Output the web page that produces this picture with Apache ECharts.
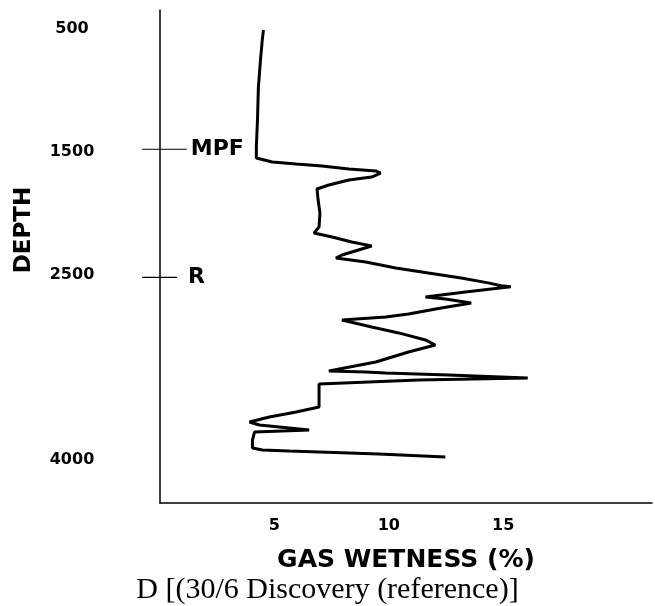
<!DOCTYPE html>
<html>
<head>
<meta charset="utf-8">
<script src="https://cdn.jsdelivr.net/npm/echarts@6/dist/echarts.min.js"></script>
<style>html,body{margin:0;padding:0;background:#fff;}#c{width:655px;height:606px;}</style>
</head>
<body>
<div id="c"></div>
<script>
// Gas wetness (%) read along the log, top to bottom
var wetness = [4.52,4.47,4.39,4.30,4.26,4.21,4.21,4.91,5.95,7.08,8.25,9.43,9.64,9.25,8.25,7.38,6.86,6.91,6.99,6.95,6.73,7.52,8.38,9.25,7.95,7.69,8.99,10.30,11.73,13.16,14.34,14.90,15.33,13.34,11.60,12.47,13.60,12.29,10.86,9.86,7.95,9.25,10.43,11.60,12.03,10.86,9.43,7.38,8.99,9.86,12.60,16.07,11.29,6.95,6.95,6.95,5.95,4.78,3.91,4.34,6.52,4.13,4.04,4.04,4.47,5.65,6.95,9.56,12.47];
// Depth for each reading
var depth = [512,593,756,975,1243,1462,1551,1583,1599,1616,1640,1656,1673,1705,1729,1770,1802,1892,1997,2111,2159,2192,2232,2265,2338,2362,2395,2443,2484,2524,2564,2588,2596,2638,2679,2695,2727,2768,2817,2841,2865,2922,2970,3027,3068,3125,3206,3279,3287,3295,3311,3336,3352,3384,3474,3571,3612,3652,3693,3717,3758,3774,3839,3904,3920,3928,3936,3952,3977];
// Formation tops
var formationNames = ['MPF', 'R'];
var formationDepths = [1480, 2520];
var formationTickFrom = [-0.78, -0.78];
var formationTickTo = [1.17, 0.74];
// Tick labels shown
var depthTickLabels = [500, 1500, 2500, 4000];
var wetnessTickLabels = [5, 10, 15];

var logData = wetness.map(function (w, i) { return [w, depth[i]]; });
var formationData = formationNames.map(function (n, i) {
  return [formationTickFrom[i], formationTickTo[i], formationDepths[i], i];
});

var boldFont = '"DejaVu Sans", sans-serif';

var chart = echarts.init(document.getElementById('c'), null, { renderer: 'canvas' });
chart.setOption({
  animation: false,
  backgroundColor: '#fff',
  title: {
    text: 'D [(30/6 Discovery (reference)]',
    left: 'center',
    top: 570,
    textStyle: { fontFamily: '"Liberation Serif", "Times New Roman", serif', fontWeight: 'normal', fontSize: 30, color: '#000' }
  },
  grid: { left: 160, right: 0, top: 10, height: 493 },
  xAxis: {
    type: 'value',
    min: 0, max: 21.5, interval: 5,
    name: 'GAS WETNESS (%)',
    nameLocation: 'middle',
    nameGap: 45,
    nameTextStyle: { fontFamily: boldFont, fontWeight: 'bold', fontSize: 25, color: '#000' },
    axisLine: { show: true, lineStyle: { color: '#000', width: 1.5 } },
    axisTick: { show: false },
    splitLine: { show: false },
    axisLabel: {
      margin: 15,
      fontFamily: boldFont, fontWeight: 'bold', fontSize: 16, color: '#000',
      formatter: function (v) { return wetnessTickLabels.indexOf(v) >= 0 ? String(v) : ''; }
    }
  },
  yAxis: {
    type: 'value',
    inverse: true,
    min: 350, max: 4350, interval: 50,
    axisLine: { show: true, onZero: false, lineStyle: { color: '#000', width: 1.5 } },
    axisTick: { show: false },
    splitLine: { show: false },
    axisLabel: {
      margin: 88,
      align: 'center',
      fontFamily: boldFont, fontWeight: 'bold', fontSize: 16, color: '#000',
      formatter: function (v) { return depthTickLabels.indexOf(v) >= 0 ? String(v) : ''; }
    }
  },
  graphic: [{
    type: 'text',
    x: 24, y: 230,
    rotation: Math.PI / 2,
    style: { text: 'DEPTH', fontFamily: boldFont, fontWeight: 'bold', fontSize: 23, fill: '#000',
             textAlign: 'center', textVerticalAlign: 'middle' }
  }],
  series: [{
    type: 'line',
    data: logData,
    showSymbol: false,
    symbol: 'none',
    lineStyle: { color: '#000', width: 3 },
    silent: true,
    animation: false
  }, {
    type: 'custom',
    clip: false,
    silent: true,
    animation: false,
    data: formationData,
    encode: { x: [0, 1], y: 2 },
    renderItem: function (params, api) {
      var p1 = api.coord([api.value(0), api.value(2)]);
      var p2 = api.coord([api.value(1), api.value(2)]);
      var idx = api.value(3);
      return {
        type: 'group',
        children: [{
          type: 'line',
          shape: { x1: p1[0], y1: p1[1], x2: p2[0], y2: p2[1] },
          style: { stroke: '#000', lineWidth: 1.2 }
        }, {
          type: 'text',
          x: p2[0] + (idx === 0 ? 4 : 11),
          y: p2[1],
          style: { text: formationNames[idx], fontFamily: boldFont, fontWeight: 'bold', fontSize: 22,
                   fill: '#000', textAlign: 'left', textVerticalAlign: 'middle' }
        }]
      };
    }
  }]
});
</script>
</body>
</html>
